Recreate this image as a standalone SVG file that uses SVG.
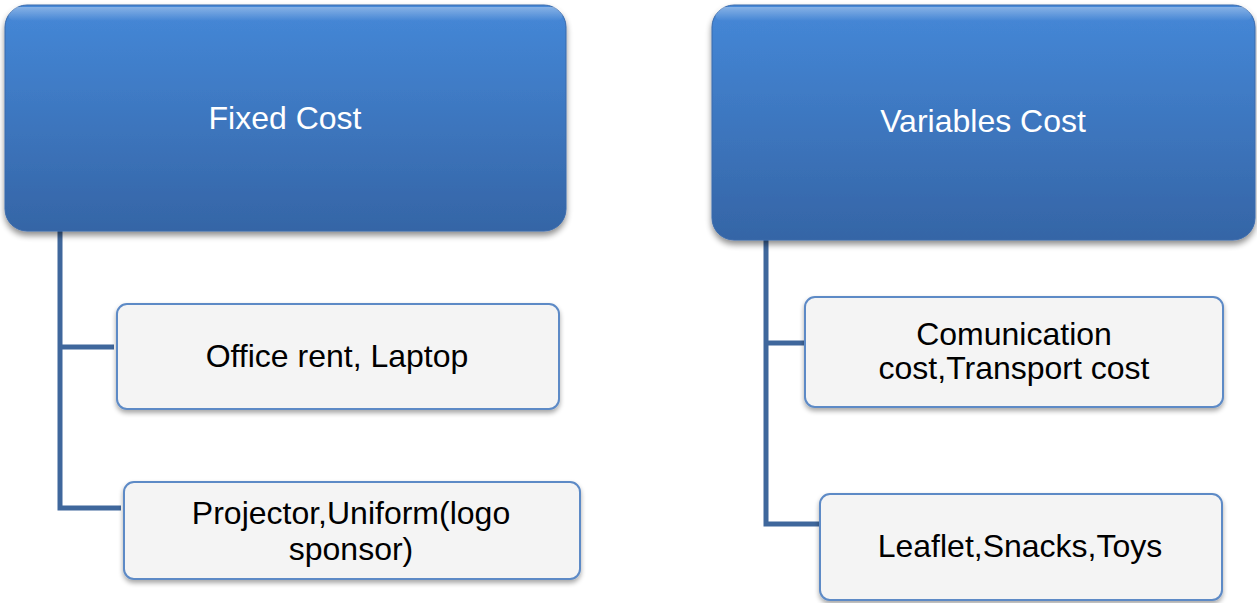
<svg xmlns="http://www.w3.org/2000/svg" width="1257" height="603" viewBox="0 0 1257 603">
<style>
.hdr{fill:url(#hg);stroke:#3a6aab;stroke-width:1;filter:url(#sh)}
.hl{fill:url(#hl)}
.ht{font-family:"Liberation Sans",Arial,sans-serif;font-size:32px;fill:#ffffff;text-anchor:middle}
.box{fill:#f4f4f4;stroke:#5d8ac6;stroke-width:2;filter:url(#sh2)}
.bt{font-family:"Liberation Sans",Arial,sans-serif;font-size:32px;fill:#000000;text-anchor:middle}
.conn{fill:none;stroke:#3f679c;stroke-width:5}
</style>
<defs>
<linearGradient id="hg" x1="0" y1="0" x2="0" y2="1">
<stop offset="0" stop-color="#4588d8"/>
<stop offset="1" stop-color="#3565a6"/>
</linearGradient>
<linearGradient id="hl" x1="0" y1="0" x2="0" y2="1">
<stop offset="0" stop-color="#ffffff" stop-opacity="0.35"/>
<stop offset="1" stop-color="#ffffff" stop-opacity="0"/>
</linearGradient>
<filter id="sh" x="-5%" y="-5%" width="110%" height="120%">
<feGaussianBlur in="SourceAlpha" stdDeviation="3"/>
<feOffset dx="0" dy="4" result="b"/>
<feComponentTransfer><feFuncA type="linear" slope="0.45"/></feComponentTransfer>
<feMerge><feMergeNode/><feMergeNode in="SourceGraphic"/></feMerge>
</filter>
<filter id="sh2" x="-5%" y="-10%" width="110%" height="130%">
<feGaussianBlur in="SourceAlpha" stdDeviation="2.5"/>
<feOffset dx="0" dy="3" result="b"/>
<feComponentTransfer><feFuncA type="linear" slope="0.35"/></feComponentTransfer>
<feMerge><feMergeNode/><feMergeNode in="SourceGraphic"/></feMerge>
</filter>
</defs>
<rect width="1257" height="603" fill="#ffffff"/>
<g id="connectors">
<path class="conn" d="M60,231 V508 H121 M60,347 H114"/>
<path class="conn" d="M766,240 V524 H821 M766,343 H806"/>
</g>
<g id="fixed-cost">
<rect class="hdr" x="5" y="5" width="561" height="226" rx="22"/>
<rect class="hl" x="8" y="7" width="555" height="14" rx="7"/>
<text class="ht" x="285" y="129">Fixed Cost</text>
</g>
<g id="variables-cost">
<rect class="hdr" x="712" y="5" width="543" height="235" rx="22"/>
<rect class="hl" x="715" y="7" width="537" height="14" rx="7"/>
<text class="ht" x="983" y="132">Variables Cost</text>
</g>
<g id="office-rent">
<rect class="box" x="117" y="304" width="442" height="105" rx="10"/>
<text class="bt" x="337" y="367">Office rent, Laptop</text>
</g>
<g id="projector">
<rect class="box" x="124" y="482" width="456" height="97" rx="10"/>
<text class="bt" x="351" y="524">Projector,Uniform(logo</text>
<text class="bt" x="351" y="560">sponsor)</text>
</g>
<g id="communication">
<rect class="box" x="805" y="297" width="418" height="110" rx="10"/>
<text class="bt" x="1014" y="345">Comunication</text>
<text class="bt" x="1014" y="379">cost,Transport cost</text>
</g>
<g id="leaflet">
<rect class="box" x="820" y="494" width="402" height="106" rx="10"/>
<text class="bt" x="1020" y="557">Leaflet,Snacks,Toys</text>
</g>
</svg>
